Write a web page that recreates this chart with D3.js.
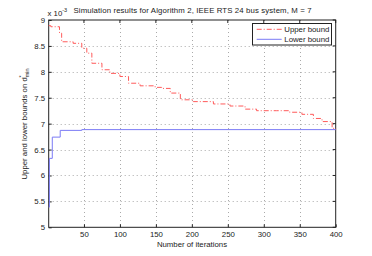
<!DOCTYPE html>
<html><head><meta charset="utf-8">
<script src="https://cdn.jsdelivr.net/npm/d3@7"></script>
<style>body{margin:0;background:#fff}svg{display:block}text{font-family:"Liberation Sans",Arial,sans-serif;fill:#222}</style>
</head><body><svg id="c" width="372" height="256"></svg>
<script>
const xTicks = [50,100,150,200,250,300,350,400];
const yTicks = [5,5.5,6,6.5,7,7.5,8,8.5,9];
const yTickLabels = ["5","5.5","6","6.5","7","7.5","8","8.5","9"];
const upperIter = [1,4,16,19,35,47,54,61,75,86,100,112,128,149,158,170,184,202,230,253,274,290,318,336,353,369,381,395,400];
const upperVal  = [8.89,8.87,8.745,8.58,8.55,8.455,8.36,8.165,8.04,7.97,7.91,7.78,7.73,7.70,7.68,7.59,7.46,7.425,7.38,7.34,7.28,7.25,7.25,7.22,7.18,7.10,7.04,6.91,6.89];
const lowerIter = [1,2,6,17,47,400];
const lowerVal  = [5.39,6.33,6.74,6.87,6.885,6.885];
const seriesNames = ["Upper bound","Lower bound"];

const svg = d3.select("#c");
const L=48.7, R=335.7, T=20, B=227.3;
const x = d3.scaleLinear().domain([1,400]).range([L,R]);
const y = d3.scaleLinear().domain([5,9]).range([B,T]);
const FS = 7.8;

// grid
const g = svg.append("g");
g.selectAll(".gx").data(xTicks.filter(v=>v<400)).join("line")
 .attr("x1",d=>Math.round(x(d))+0.5).attr("x2",d=>Math.round(x(d))+0.5).attr("y1",T).attr("y2",B)
 .attr("stroke","#aaa").attr("stroke-width",1).attr("stroke-dasharray","1,3");
g.selectAll(".gy").data(yTicks.filter(v=>v>5&&v<9)).join("line")
 .attr("y1",d=>Math.round(y(d))+0.5).attr("y2",d=>Math.round(y(d))+0.5).attr("x1",L).attr("x2",R)
 .attr("stroke","#aaa").attr("stroke-width",1).attr("stroke-dasharray","1,3");

// axes
const xa = svg.append("g").attr("transform",`translate(0,${B})`)
 .call(d3.axisBottom(x).tickValues(xTicks).tickSize(-3).tickPadding(4).tickFormat(d3.format("d")));
const ya = svg.append("g").attr("transform",`translate(${L},0)`)
 .call(d3.axisLeft(y).tickValues(yTicks).tickSize(-3).tickPadding(3.5).tickFormat((d,i)=>yTickLabels[i]));
[xa,ya].forEach(a=>{a.select(".domain").remove();a.selectAll("text").attr("font-size",FS).attr("fill","#222").attr("font-family","Liberation Sans, Arial, sans-serif");a.selectAll("line").attr("stroke","#222");});
// top/right ticks
svg.append("g").selectAll("line").data(xTicks).join("line").attr("x1",d=>x(d)).attr("x2",d=>x(d)).attr("y1",T).attr("y2",T+3).attr("stroke","#222");
svg.append("g").selectAll("line").data(yTicks).join("line").attr("y1",d=>y(d)).attr("y2",d=>y(d)).attr("x1",R).attr("x2",R-3).attr("stroke","#222");
svg.append("rect").attr("x",L).attr("y",T).attr("width",R-L).attr("height",B-T).attr("fill","none").attr("stroke","#222").attr("stroke-width",1);

// lines
const upper = upperIter.map((v,i)=>[v,upperVal[i]]);
const lower = lowerIter.map((v,i)=>[v,lowerVal[i]]);
svg.append("path").datum(upper).attr("d",d3.line().x(d=>x(d[0])).y(d=>y(d[1])).curve(d3.curveStepAfter))
 .attr("fill","none").attr("stroke","#ff5a5a").attr("stroke-width",1).attr("stroke-dasharray","5,2,1,2");
svg.append("path").datum(lower).attr("d",d3.line().x(d=>x(d[0])).y(d=>y(d[1])).curve(d3.curveStepAfter))
 .attr("fill","none").attr("stroke","#7b7bf5").attr("stroke-width",1);

// legend
const lg = svg.append("g");
lg.append("rect").attr("x",252.5).attr("y",23.5).attr("width",79).attr("height",21.5).attr("fill","#fff").attr("stroke","#222");
lg.append("line").attr("x1",256.7).attr("x2",281.7).attr("y1",29.3).attr("y2",29.3).attr("stroke","#ff5a5a").attr("stroke-dasharray","5,2,1,2");
lg.append("line").attr("x1",256.7).attr("x2",281.7).attr("y1",39.3).attr("y2",39.3).attr("stroke","#7b7bf5");
lg.append("text").attr("x",284.3).attr("y",32.2).attr("font-size",FS).attr("textLength",45).text(seriesNames[0]);
lg.append("text").attr("x",284.3).attr("y",42.2).attr("font-size",FS).attr("textLength",45).text(seriesNames[1]);

// title
svg.append("text").attr("x",192.5).attr("y",12.5).attr("text-anchor","middle").attr("font-size",FS).attr("textLength",238)
 .text("Simulation results for Algorithm 2, IEEE RTS 24 bus system, M = 7");
const ex = svg.append("text").attr("x",47.5).attr("y",15.5).attr("font-size",FS);
ex.append("tspan").text("x 10");
ex.append("tspan").attr("dy",-3.5).attr("font-size",5.5).text("-3");

// x label
svg.append("text").attr("x",192).attr("y",246.5).attr("text-anchor","middle").attr("font-size",FS).text("Number of iterations");
// y label
const yl = svg.append("text").attr("transform","translate(26.5,124) rotate(-90)").attr("text-anchor","middle").attr("font-size",FS);
yl.append("tspan").text("Upper and lower bounds on d");
yl.append("tspan").attr("font-size",5.5).attr("dy",2.5).text("min");
yl.append("tspan").attr("font-size",5.5).attr("dx",-9).attr("dy",-6.5).text("*");
</script></body></html>
